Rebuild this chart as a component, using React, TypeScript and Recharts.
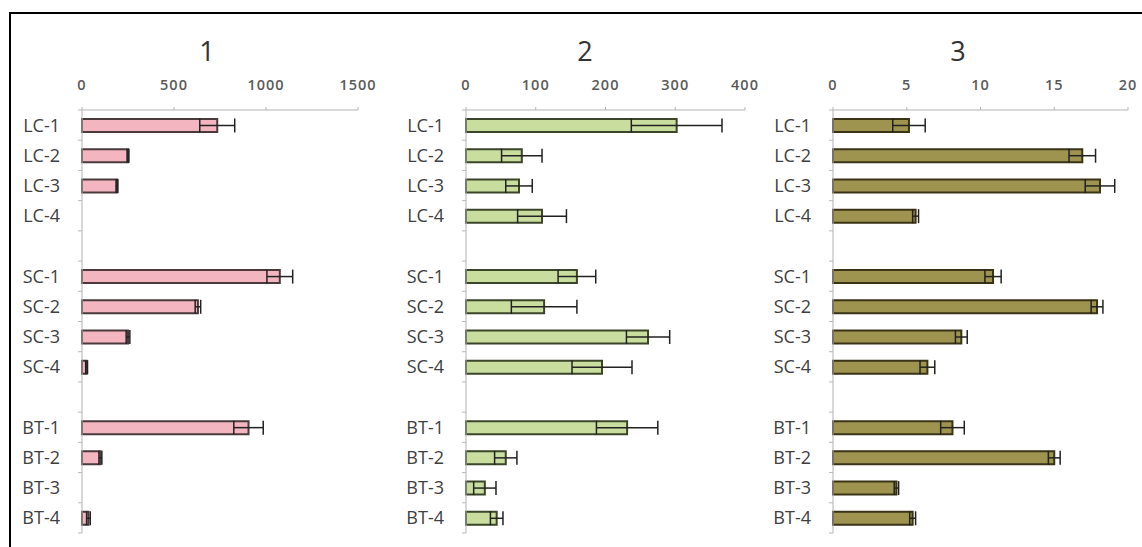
import React from "react";
import { BarChart, Bar, XAxis, YAxis, ErrorBar } from "recharts";

// Row keys: three groups of four samples, separated by empty rows
const rowKeys = [
  "LC-1", "LC-2", "LC-3", "LC-4", "gap-1",
  "SC-1", "SC-2", "SC-3", "SC-4", "gap-2",
  "BT-1", "BT-2", "BT-3", "BT-4",
];

// Panel 1
const values1 = [735, 250, 190, 0, null, 1075, 630, 250, 25, null, 905, 100, 0, 35];
const errors1 = [95, 5, 5, 0, null, 70, 15, 10, 5, null, 80, 8, 0, 10];
const ticks1 = [0, 500, 1000, 1500];

// Panel 2
const values2 = [302, 80, 76, 109, null, 159, 112, 261, 195, null, 231, 57, 27, 44];
const errors2 = [65, 29, 19, 35, null, 27, 47, 31, 43, null, 44, 16, 16, 9];
const ticks2 = [0, 100, 200, 300, 400];

// Panel 3
const values3 = [5.15, 16.9, 18.1, 5.6, null, 10.85, 17.9, 8.7, 6.4, null, 8.1, 15.0, 4.3, 5.4];
const errors3 = [1.1, 0.9, 1.0, 0.2, null, 0.55, 0.4, 0.4, 0.5, null, 0.8, 0.4, 0.15, 0.2];
const ticks3 = [0, 5, 10, 15, 20];

const W = 1142;
const H = 547;
const MARGIN_TOP = 80;
const MARGIN_BOTTOM = 14;
const X_AXIS_H = 30;
const LABEL_GAP = 22;
const FONT = "'Open Sans', 'DejaVu Sans', sans-serif";

// half of one category row, used for the boundary tick marks
const HALF_ROW = (H - MARGIN_TOP - MARGIN_BOTTOM - X_AXIS_H) / rowKeys.length / 2;

function CategoryTick(props: any) {
  const { x, y, payload, index } = props;
  const key: string = payload.value;
  const axisX = x + LABEL_GAP;
  const isLast = index === rowKeys.length - 1;
  return (
    <g>
      <line x1={axisX - 4} x2={axisX} y1={y - HALF_ROW} y2={y - HALF_ROW} stroke="#b8b8b8" />
      {isLast && <line x1={axisX - 4} x2={axisX} y1={y + HALF_ROW} y2={y + HALF_ROW} stroke="#b8b8b8" />}
      {!key.startsWith("gap") && (
        <text x={x} y={y} dy="0.36em" textAnchor="end" fill="#404040" fontSize={18} fontFamily={FONT}>
          {key}
        </text>
      )}
    </g>
  );
}

type PanelProps = {
  values: (number | null)[];
  errors: (number | null)[];
  ticks: number[];
  left: number;
  right: number;
  fill: string;
  stroke: string;
};

function Panel({ values, errors, ticks, left, right, fill, stroke }: PanelProps) {
  const data = rowKeys.map((k, i) => ({ key: k, value: values[i], err: errors[i] }));
  return (
    <div style={{ position: "absolute", left: 0, top: 0 }}>
      <BarChart
        width={W}
        height={H}
        data={data}
        layout="vertical"
        margin={{ top: MARGIN_TOP, bottom: MARGIN_BOTTOM, left: left - 70, right: W - right }}
        barSize={13}
      >
        <XAxis
          type="number"
          orientation="top"
          domain={[ticks[0], ticks[ticks.length - 1]]}
          ticks={ticks}
          height={X_AXIS_H}
          interval={0}
          axisLine={{ stroke: "#b3b3b3", strokeWidth: 1 }}
          tickLine={{ stroke: "#b3b3b3" }}
          tickSize={3}
          tickMargin={17}
          tick={{ fill: "#5a5a5a", fontSize: 14.5, fontWeight: 600, fontFamily: FONT, letterSpacing: 1 }}
        />
        <YAxis
          type="category"
          dataKey="key"
          width={70}
          interval={0}
          axisLine={{ stroke: "#b3b3b3", strokeWidth: 1 }}
          tickLine={false}
          tickSize={0}
          tickMargin={LABEL_GAP}
          tick={<CategoryTick />}
        />
        <Bar dataKey="value" fill={fill} stroke={stroke} strokeWidth={2} isAnimationActive={false}>
          <ErrorBar dataKey="err" direction="x" width={7} stroke="#222222" strokeWidth={1.5} />
        </Bar>
      </BarChart>
    </div>
  );
}

const titleStyle = (x: number): React.CSSProperties => ({
  position: "absolute",
  left: x - 30,
  top: 33,
  width: 60,
  textAlign: "center",
  fontFamily: FONT,
  fontSize: 27,
  lineHeight: "36px",
  color: "#333333",
});

export default function App() {
  return (
    <div style={{ position: "relative", width: W, height: H, overflow: "hidden", background: "#ffffff" }}>
      <style>{`body{margin:0}`}</style>
      <div
        style={{
          position: "absolute",
          left: 9,
          top: 12,
          width: 1140,
          height: 540,
          border: "2px solid #000000",
          boxSizing: "border-box",
        }}
      />
      <div style={titleStyle(207)}>1</div>
      <div style={titleStyle(585)}>2</div>
      <div style={titleStyle(958)}>3</div>
      <Panel values={values1} errors={errors1} ticks={ticks1} left={82} right={358} fill="#f3b6c0" stroke="#4a3a3c" />
      <Panel values={values2} errors={errors2} ticks={ticks2} left={466} right={745} fill="#c9de9e" stroke="#3b4529" />
      <Panel values={values3} errors={errors3} ticks={ticks3} left={833} right={1128} fill="#9f9350" stroke="#3a3316" />
    </div>
  );
}
